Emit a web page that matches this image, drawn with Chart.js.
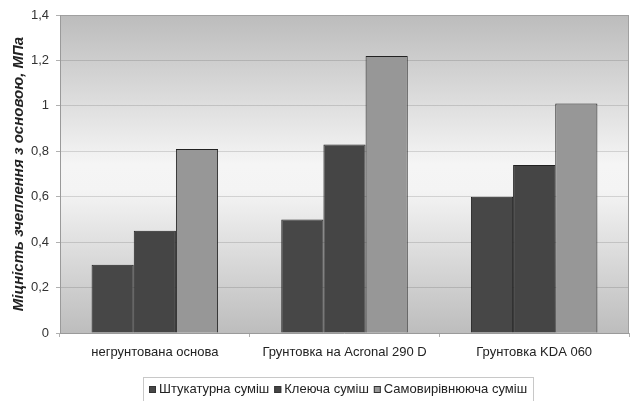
<!DOCTYPE html>
<html>
<head>
<meta charset="utf-8">
<script src="https://cdn.jsdelivr.net/npm/chart.js@4/dist/chart.umd.min.js"></script>
<style>
  html, body { margin: 0; padding: 0; background: #fff; }
  #wrap { width: 632px; height: 401px; position: relative; }
</style>
</head>
<body>
<div id="wrap"><canvas id="c" width="632" height="401"></canvas></div>
<script>
// Adhesion strength to the substrate, MPa
const categories = ['негрунтована основа', 'Грунтовка на Acronal 290 D', 'Грунтовка KDA 060'];
const seriesNames = ['Штукатурна суміш', 'Клеюча суміш', 'Самовирівнююча суміш'];
const plasterMix = [0.30, 0.50, 0.60];
const adhesiveMix = [0.45, 0.83, 0.74];
const selfLevelingMix = [0.81, 1.22, 1.01];
const yTicks = [0, 0.2, 0.4, 0.6, 0.8, 1, 1.2, 1.4];

const barColors = ['#474747', '#454545', '#979797'];
const FONT = '"Liberation Sans", Arial, sans-serif';

// Grey vertical gradient behind the plot area
const plotBackground = {
  id: 'plotBackground',
  beforeDraw(chart) {
    const { ctx, chartArea: a } = chart;
    const g = ctx.createLinearGradient(0, a.top, 0, a.bottom);
    g.addColorStop(0, '#bcbcbc');
    g.addColorStop(0.47, '#f5f5f5');
    g.addColorStop(0.55, '#f4f4f4');
    g.addColorStop(1, '#bdbdbd');
    ctx.save();
    ctx.fillStyle = g;
    ctx.fillRect(a.left, a.top, a.right - a.left, a.bottom - a.top);
    ctx.restore();
  },
  afterDatasetsDraw(chart) {
    const { ctx, chartArea: a } = chart;
    ctx.save();
    ctx.strokeStyle = '#a0a0a0';
    ctx.lineWidth = 1;
    ctx.beginPath();
    ctx.moveTo(a.left + 0.5, a.top + 0.5);
    ctx.lineTo(a.right - 0.5, a.top + 0.5);
    ctx.lineTo(a.right - 0.5, a.bottom);
    ctx.stroke();
    ctx.strokeStyle = '#9a9a9a';
    ctx.beginPath();
    ctx.moveTo(a.left, a.bottom + 0.5);
    ctx.lineTo(a.right, a.bottom + 0.5);
    ctx.moveTo(a.left + 0.5, a.top);
    ctx.lineTo(a.left + 0.5, a.bottom);
    ctx.stroke();
    ctx.restore();
  }
};

// Boxed legend under the category labels
const boxedLegend = {
  id: 'boxedLegend',
  afterDraw(chart) {
    const { ctx } = chart;
    const ds = chart.data.datasets;
    ctx.save();
    ctx.font = '13px ' + FONT;
    ctx.textBaseline = 'middle';
    const marker = 7, gap = 3, itemGap = 5, pad = 4;
    const widths = ds.map(d => marker + gap + ctx.measureText(d.label).width);
    const total = widths.reduce((s, w) => s + w, 0) + itemGap * (ds.length - 1);
    const boxW = total + pad * 2 + 4;
    const cx = 338.5;
    const left = Math.round(cx - boxW / 2);
    const top = 377, h = 24;
    ctx.strokeStyle = '#c8c8c8';
    ctx.lineWidth = 1;
    ctx.strokeRect(left + 0.5, top + 0.5, Math.round(boxW), h);
    let x = left + pad + 2;
    const y = 389;
    ds.forEach((d, i) => {
      ctx.fillStyle = d.backgroundColor;
      ctx.fillRect(x, y - 3, marker, marker);
      ctx.strokeStyle = '#333';
      ctx.strokeRect(x + 0.5, y - 2.5, marker - 1, marker - 1);
      ctx.fillStyle = '#222';
      ctx.textAlign = 'left';
      ctx.fillText(d.label, x + marker + gap, y);
      x += widths[i] + itemGap;
    });
    ctx.restore();
  }
};

new Chart(document.getElementById('c'), {
  type: 'bar',
  data: {
    labels: categories,
    datasets: [plasterMix, adhesiveMix, selfLevelingMix].map((vals, i) => ({
      label: seriesNames[i],
      data: vals,
      backgroundColor: barColors[i],
      borderColor: '#222222',
      borderWidth: 1,
      categoryPercentage: 0.667,
      barPercentage: 1.0
    }))
  },
  options: {
    responsive: false,
    animation: false,
    devicePixelRatio: 1,
    layout: { padding: { left: 0, right: 3, top: 15, bottom: 0 } },
    plugins: {
      legend: { display: false },
      tooltip: { enabled: false }
    },
    scales: {
      x: {
        grid: {
          display: true,
          drawOnChartArea: false,
          drawTicks: true,
          tickLength: 4,
          color: '#b0b0b0',
          offset: true
        },
        border: { display: false },
        ticks: {
          color: '#222',
          font: { family: FONT, size: 13 },
          padding: 8,
          maxRotation: 0
        },
        afterFit(scale) { scale.height = 68; }
      },
      y: {
        min: 0,
        max: 1.4,
        afterBuildTicks(scale) { scale.ticks = yTicks.map(v => ({ value: v })); },
        grid: {
          color: 'rgba(0,0,0,0.13)',
          drawTicks: true,
          tickLength: 4,
          tickColor: '#b0b0b0'
        },
        border: { display: false },
        ticks: {
          color: '#333',
          font: { family: FONT, size: 13 },
          padding: 7,
          callback: v => String(v).replace('.', ',')
        },
        title: {
          display: true,
          text: 'Міцність зчеплення з основою, МПа',
          color: '#222',
          font: { family: FONT, size: 15, weight: 'bold', style: 'italic' },
          padding: { top: 10, bottom: 0 }
        },
        afterFit(scale) { scale.width = 60; }
      }
    }
  },
  plugins: [plotBackground, boxedLegend]
});
</script>
</body>
</html>
